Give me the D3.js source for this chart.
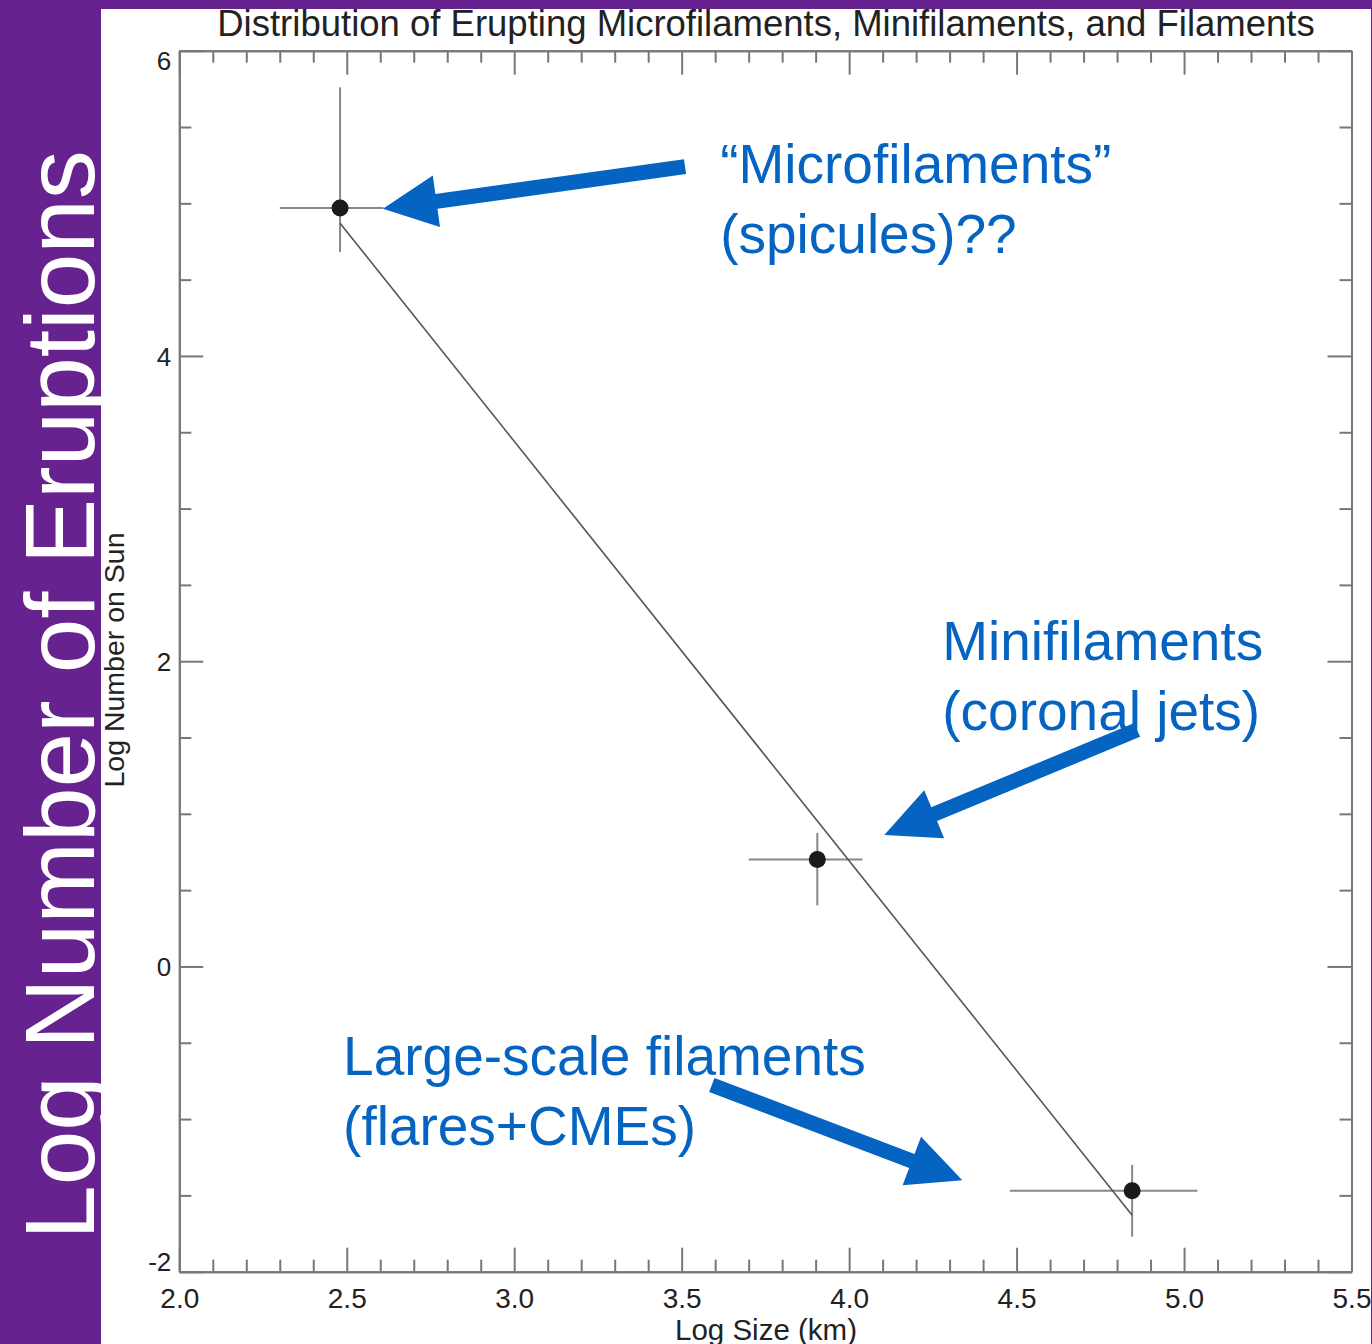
<!DOCTYPE html>
<html>
<head>
<meta charset="utf-8">
<script src="https://cdn.jsdelivr.net/npm/d3@7"></script>
<style>
  body { margin: 0; background: #66228f; }
  svg { display: block; font-family: "Liberation Sans", Arial, Helvetica, sans-serif; }
</style>
</head>
<body>
<svg id="chart" width="1372" height="1344"></svg>
<script>
/****** Data ***************************/
const logSize   = [2.48, 3.905, 4.845];
const logNumber = [4.97, 0.70, -1.47];
const sizeLo = [2.30, 3.70, 4.48];
const sizeHi = [2.61, 4.04, 5.04];
const numLo  = [4.68, 0.40, -1.77];
const numHi  = [5.76, 0.875, -1.30];

// straight-line fit drawn through the points
const fitSize   = [2.48, 4.845];
const fitNumber = [4.87, -1.63];

const xTicks = [2.0, 2.5, 3.0, 3.5, 4.0, 4.5, 5.0, 5.5];
const yTicks = [-2, 0, 2, 4, 6];

// annotations (arrow tail -> tip, in data units)
const arrowTail = [[3.51, 5.24], [4.86, 1.55], [3.59, -0.777]];
const arrowTip  = [[2.608, 4.964], [4.105, 0.862], [4.338, -1.40]];
const noteLines = [["\u201CMicrofilaments\u201D", "(spicules)??"],
                   ["Minifilaments", "(coronal jets)"],
                   ["Large-scale filaments", "(flares+CMEs)"]];
const notePos = [[3.615, 5.13], [4.278, 2.01], [2.489, -0.711]];

/** Draw **/
var svg = d3.select("#chart");
var W = 1372, H = 1344;
var blue = "#0563c1", axisCol = "#777";

// purple frame and white page
svg.append("rect").attr("width", W).attr("height", H).attr("fill", "#66228f");
svg.append("rect").attr("x", 101).attr("y", 9).attr("width", 1270).attr("height", H - 9).attr("fill", "#fff");

svg.append("text")
    .attr("transform", "translate(94,695) rotate(-90)")
    .attr("text-anchor", "middle")
    .attr("fill", "#fff")
    .style("font-size", "98px")
    .text("Log Number of Eruptions");

var pLeft = 179.3, pRight = 1351.5, pTop = 50.7, pBottom = 1271.7;
var x = d3.scaleLinear().domain([2, 5.5]).range([pLeft, pRight]);
var y = d3.scaleLinear().domain([-2, 6]).range([pBottom, pTop]);

var xMinor = d3.range(20, 56).map(d => d / 10).filter(d => xTicks.indexOf(d) < 0);
var yMinor = d3.range(-4, 13).map(d => d / 2).filter(d => yTicks.indexOf(d) < 0);

function styleAxis(g) {
    g.select(".domain").attr("stroke", axisCol).attr("stroke-width", 2);
    g.selectAll(".tick line").attr("stroke", axisCol).attr("stroke-width", 2);
    g.selectAll(".tick text").attr("fill", "#222");
}

// bottom
svg.append("g").attr("transform", "translate(0," + pBottom + ")")
    .call(d3.axisBottom(x).tickValues(xTicks).tickSize(-24).tickSizeOuter(0).tickPadding(16)
        .tickFormat(d3.format(".1f")))
    .call(styleAxis)
    .selectAll("text").style("font-size", "28px").attr("dy", "0.72em");
svg.append("g").attr("transform", "translate(0," + pBottom + ")")
    .call(d3.axisBottom(x).tickValues(xMinor).tickSize(-12).tickSizeOuter(0).tickFormat(""))
    .call(styleAxis);
// top
svg.append("g").attr("transform", "translate(0," + pTop + ")")
    .call(d3.axisTop(x).tickValues(xTicks).tickSize(-24).tickSizeOuter(0).tickFormat(""))
    .call(styleAxis);
svg.append("g").attr("transform", "translate(0," + pTop + ")")
    .call(d3.axisTop(x).tickValues(xMinor).tickSize(-12).tickSizeOuter(0).tickFormat(""))
    .call(styleAxis);
// left
var yl = svg.append("g").attr("transform", "translate(" + pLeft + ",0)")
    .call(d3.axisLeft(y).tickValues(yTicks).tickSize(-24).tickSizeOuter(0).tickPadding(8)
        .tickFormat(d => String(d)))
    .call(styleAxis);
yl.selectAll("text").style("font-size", "26px")
    .attr("dy", d => d === 6 ? "0.72em" : (d === -2 ? "-0.05em" : "0.35em"));
svg.append("g").attr("transform", "translate(" + pLeft + ",0)")
    .call(d3.axisLeft(y).tickValues(yMinor).tickSize(-12).tickSizeOuter(0).tickFormat(""))
    .call(styleAxis);
// right
svg.append("g").attr("transform", "translate(" + pRight + ",0)")
    .call(d3.axisRight(y).tickValues(yTicks).tickSize(-24).tickSizeOuter(0).tickFormat(""))
    .call(styleAxis);
svg.append("g").attr("transform", "translate(" + pRight + ",0)")
    .call(d3.axisRight(y).tickValues(yMinor).tickSize(-12).tickSizeOuter(0).tickFormat(""))
    .call(styleAxis);

// titles
svg.append("text").attr("x", 766).attr("y", 36)
    .attr("text-anchor", "middle").attr("fill", "#222").style("font-size", "36.5px")
    .text("Distribution of Erupting Microfilaments, Minifilaments, and Filaments");
svg.append("text").attr("x", 766).attr("y", 1340)
    .attr("text-anchor", "middle").attr("fill", "#222").style("font-size", "29.5px")
    .text("Log Size (km)");
svg.append("text")
    .attr("transform", "translate(124,660) rotate(-90)")
    .attr("text-anchor", "middle").attr("fill", "#222").style("font-size", "28.5px")
    .text("Log Number on Sun");

// error bars
var idx = d3.range(logSize.length);
var bars = svg.append("g").attr("stroke", "#888").attr("stroke-width", 2);
bars.selectAll(".hbar").data(idx).enter().append("line")
    .attr("x1", i => x(sizeLo[i])).attr("x2", i => x(sizeHi[i]))
    .attr("y1", i => y(logNumber[i])).attr("y2", i => y(logNumber[i]));
bars.selectAll(".vbar").data(idx).enter().append("line")
    .attr("x1", i => x(logSize[i])).attr("x2", i => x(logSize[i]))
    .attr("y1", i => y(numLo[i])).attr("y2", i => y(numHi[i]));

// fit line
svg.append("path")
    .datum(d3.range(fitSize.length))
    .attr("fill", "none").attr("stroke", "#555").attr("stroke-width", 1.6)
    .attr("d", d3.line().x(i => x(fitSize[i])).y(i => y(fitNumber[i])));

// points
svg.selectAll(".pt").data(idx).enter().append("circle")
    .attr("cx", i => x(logSize[i])).attr("cy", i => y(logNumber[i]))
    .attr("r", 8.5).attr("fill", "#1a1a1a");

// blue arrows
function arrowPath(t, p) {
    var x0 = x(t[0]), y0 = y(t[1]), x1 = x(p[0]), y1 = y(p[1]);
    var len = Math.hypot(x1 - x0, y1 - y0), ux = (x1 - x0) / len, uy = (y1 - y0) / len;
    var nx = -uy, ny = ux, sw = 7.5, hw = 26, hl = 54;
    var bx = x1 - ux * hl, by = y1 - uy * hl;
    var pts = [[x0 + nx * sw, y0 + ny * sw], [bx + nx * sw, by + ny * sw], [bx + nx * hw, by + ny * hw],
               [x1, y1], [bx - nx * hw, by - ny * hw], [bx - nx * sw, by - ny * sw], [x0 - nx * sw, y0 - ny * sw]];
    return "M" + pts.map(q => q.join(",")).join("L") + "Z";
}
svg.selectAll(".arrow").data(d3.range(arrowTail.length)).enter().append("path")
    .attr("d", i => arrowPath(arrowTail[i], arrowTip[i]))
    .attr("fill", blue);

// notes
noteLines.forEach(function (lines, i) {
    var t = svg.append("text").attr("fill", blue).style("font-size", "55px")
        .attr("x", x(notePos[i][0])).attr("y", y(notePos[i][1]));
    lines.forEach(function (s, j) {
        t.append("tspan").attr("x", x(notePos[i][0])).attr("dy", j === 0 ? 0 : 70).text(s);
    });
});
</script>
</body>
</html>
